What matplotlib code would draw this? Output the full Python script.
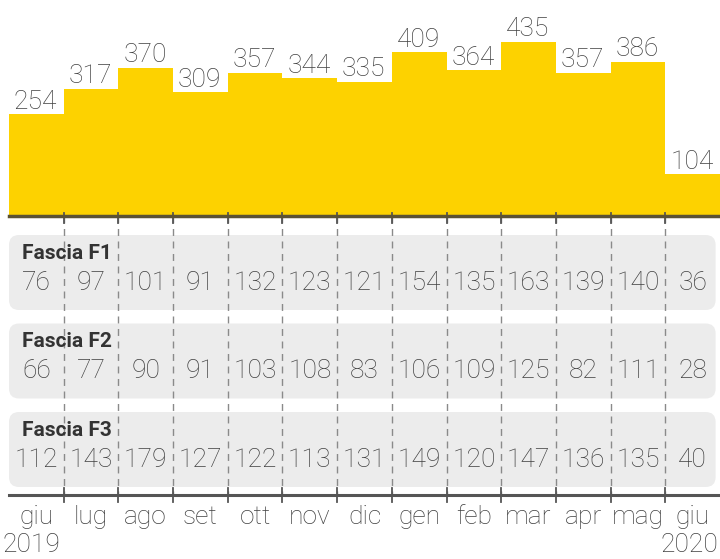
import matplotlib
matplotlib.use("Agg")
import matplotlib.pyplot as plt
from matplotlib.patches import FancyBboxPatch

months = ["giu", "lug", "ago", "set", "ott", "nov", "dic",
          "gen", "feb", "mar", "apr", "mag", "giu"]
totale = [254, 317, 370, 309, 357, 344, 335, 409, 364, 435, 357, 386, 104]
fascia_names = ["Fascia F1", "Fascia F2", "Fascia F3"]
f1 = [76, 97, 101, 91, 132, 123, 121, 154, 135, 163, 139, 140, 36]
f2 = [66, 77, 90, 91, 103, 108, 83, 106, 109, 125, 82, 111, 28]
f3 = [112, 143, 179, 127, 122, 113, 131, 149, 120, 147, 136, 135, 40]
year_start, year_end = "2019", "2020"

plt.rcParams['font.family'] = ['Roboto', 'DejaVu Sans']

W, H = 720, 559
YELLOW = '#fdd200'
TXT = '#404040'
n = len(months)

fig = plt.figure(figsize=(W / 100, H / 100), dpi=100)


def add_ax(x0, y0, x1, y1):
    # pixel box -> figure fraction
    ax = fig.add_axes([x0 / W, 1 - y1 / H, (x1 - x0) / W, (y1 - y0) / H])
    ax.set_axis_off()
    return ax


# top: totals as step bars
ax = add_ax(9, 0, 720, 216)
ax.set_xlim(0, n)
ax.set_ylim(0, 540)
ax.bar(range(n), totale, width=1.0, align='edge', color=YELLOW, linewidth=0)
for i, v in enumerate(totale):
    ax.text(i + 0.09, v + 2, str(v), ha='left', va='bottom',
            fontsize=19, color=TXT, fontweight='light')

# bottom: table of bands (y in pixels, downward)
tb = add_ax(9, 216, 720, 495)
tb.set_xlim(0, n)
tb.set_ylim(279, 0)
unit = 711 / n

for r, (name, vals) in enumerate(zip(fascia_names, [f1, f2, f3])):
    top = 19 + 88.5 * r
    box = FancyBboxPatch((0.0, top), n - 0.08, 75,
                         boxstyle="round,pad=0,rounding_size=%.3f" % (10 / unit),
                         mutation_aspect=unit, facecolor='#ececec',
                         edgecolor='none', zorder=1)
    tb.add_patch(box)
    tb.text(0.24, top + 18, name, ha='left', va='center', fontsize=15,
            fontweight='bold', color='#333333', zorder=3)
    for i, v in enumerate(vals):
        tb.text(i + 0.5, top + 48, str(v), ha='center', va='center',
                fontsize=19, color=TXT, fontweight='light', zorder=3)

# dashed separators and ticks
for k in range(1, n):
    tb.plot([k, k], [0, 279], color='#8a8a8a', lw=1, dashes=(5, 4), zorder=2)
    tb.plot([k, k], [-3, 7], color='#555555', lw=1.3, zorder=4, clip_on=False)
    tb.plot([k, k], [272, 286], color='#555555', lw=1.3, zorder=4, clip_on=False)

tb.plot([0, n], [0, 0], color='#5b5234', lw=2.5, zorder=4, clip_on=False)
tb.plot([0, n], [279, 279], color='#555555', lw=2.2, zorder=4, clip_on=False)

for i, m in enumerate(months):
    tb.text(i + 0.5, 301, m, ha='center', va='center', fontsize=19,
            color=TXT, fontweight='light', clip_on=False)
tb.text(-0.11, 329, year_start, ha='left', va='center', fontsize=19,
        color=TXT, fontweight='light', clip_on=False)
tb.text(n - 0.04, 329, year_end, ha='right', va='center', fontsize=19,
        color=TXT, fontweight='light', clip_on=False)

fig.savefig("out.png", dpi=100, facecolor='white')
